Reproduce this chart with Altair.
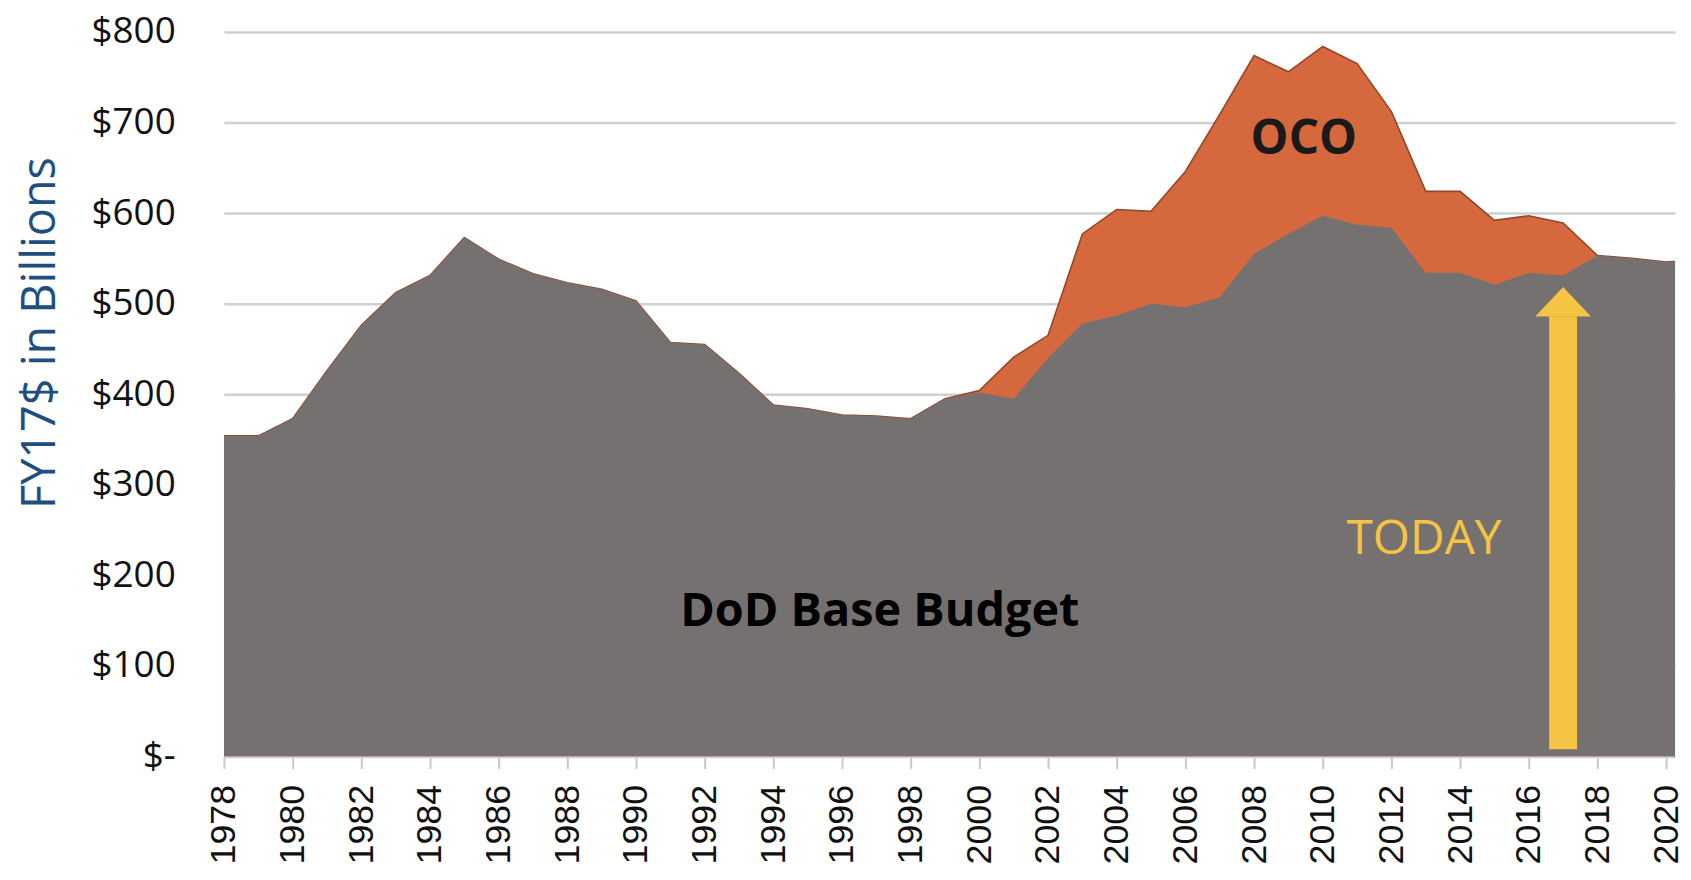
import altair as alt
import pandas as pd

# ---- data ----
years = list(range(1978, 2022))
base = [354, 354, 373, 426, 476, 512, 531, 573, 549, 533, 523, 516, 503, 457, 455,
        423, 388, 384, 377, 376, 373, 395, 402, 395, 440, 478, 487, 500, 496, 507,
        555, 577, 597, 587, 584, 534, 534, 521, 534, 531, 553, 550, 546, 549]
oco = [0] * 22 + [2, 46, 25, 99, 117, 102, 150, 202, 219, 179, 187, 178, 128, 90,
                  90, 71, 63, 58, 0, 0, 0, 0]
total = [b + o for b, o in zip(base, oco)]

y_ticks = [0, 100, 200, 300, 400, 500, 600, 700, 800]
x_ticks = list(range(1978, 2021))

label_text = ["OCO", "DoD Base Budget", "TODAY"]
label_x = [2009.45, 1997.1, 2012.95]
label_y = [681, 160, 239]

arrow_x = [2017.0]
arrow_bottom = [8]
arrow_head_base = [486]
arrow_head_mid = [502]

df = pd.DataFrame({"year": years, "base": base, "total": total})

GREY = "#767171"
ORANGE = "#D5693D"
YELLOW = "#F6C443"

xscale = alt.Scale(domain=[1978, 2020.26], nice=False, zero=False)
yscale = alt.Scale(domain=[0, 800], nice=False)

x_axis = alt.Axis(
    values=x_ticks,
    labelExpr="datum.value % 2 == 0 ? '' + datum.value : ''",
    labelAngle=270, labelAlign="right", labelBaseline="middle",
    labelFont="Liberation Sans", labelFontSize=36, labelColor="#111111",
    labelPadding=16, labelFlush=False, labelOverlap=False,
    tickSize=12, tickColor="#c8c8c8", tickWidth=2,
    domainColor="#d0d0d0", domainWidth=2, grid=False, title=None,
)
y_axis = alt.Axis(
    values=y_ticks,
    labelExpr="datum.value == 0 ? '$-\u00a0\u00a0' : '$' + datum.value",
    labelFont="Open Sans", labelFontSize=37, labelColor="#111111",
    labelPadding=49, ticks=False, domain=False,
    grid=True, gridColor="#cfcfcf", gridWidth=2.5,
    title="FY17$ in Billions", titleFont="Open Sans", titleFontSize=47,
    titleFontWeight="normal", titleColor="#1F4E80", titleAngle=270,
    titleX=-184, titleY=302, titleAlign="center", titleBaseline="middle",
)

oco_area = alt.Chart(df).mark_area(
    color=ORANGE, opacity=1, clip=True,
    line={"color": "#94452a", "strokeWidth": 1.6},
).encode(
    x=alt.X("year:Q", scale=xscale, axis=x_axis),
    y=alt.Y("total:Q", scale=yscale, axis=y_axis),
)
base_area = alt.Chart(df).mark_area(color=GREY, clip=True, opacity=1).encode(
    x=alt.X("year:Q", scale=xscale),
    y=alt.Y("base:Q", scale=yscale),
)

arrow_df = pd.DataFrame({"x": arrow_x, "y0": arrow_bottom, "y1": arrow_head_base,
                         "ym": arrow_head_mid})
shaft = alt.Chart(arrow_df).mark_rule(color=YELLOW, strokeWidth=28).encode(
    x=alt.X("x:Q", scale=xscale),
    y=alt.Y("y0:Q", scale=yscale),
    y2="y1:Q",
)
head = alt.Chart(arrow_df).mark_point(
    shape="M-1,0.53L0,-0.53L1,0.53Z", size=3136, filled=True,
    color=YELLOW, opacity=1, strokeWidth=0,
).encode(
    x=alt.X("x:Q", scale=xscale),
    y=alt.Y("ym:Q", scale=yscale),
)

lab = pd.DataFrame({"x": label_x, "y": label_y, "t": label_text})


def text_layer(name, **kw):
    return alt.Chart(lab[lab.t == name]).mark_text(
        align="center", baseline="middle", font="Open Sans", **kw
    ).encode(
        x=alt.X("x:Q", scale=xscale),
        y=alt.Y("y:Q", scale=yscale),
        text="t:N",
    )


oco_lbl = text_layer("OCO", fontSize=48, fontWeight="bold", color="#1a1a1a")
base_lbl = text_layer("DoD Base Budget", fontSize=47, fontWeight="bold", color="#000000")
today_lbl = text_layer("TODAY", fontSize=48, fontWeight="normal", color=YELLOW)

chart = alt.layer(
    oco_area, base_area, shaft, head, oco_lbl, base_lbl, today_lbl
).properties(
    width=1458, height=728,
    autosize=alt.AutoSizeParams(type="none"),
    padding={"left": 217, "top": 22, "right": 8, "bottom": 114},
    background="white",
).configure_view(strokeWidth=0)

chart.save("out.html", embed_options={"renderer": "svg", "actions": False})
